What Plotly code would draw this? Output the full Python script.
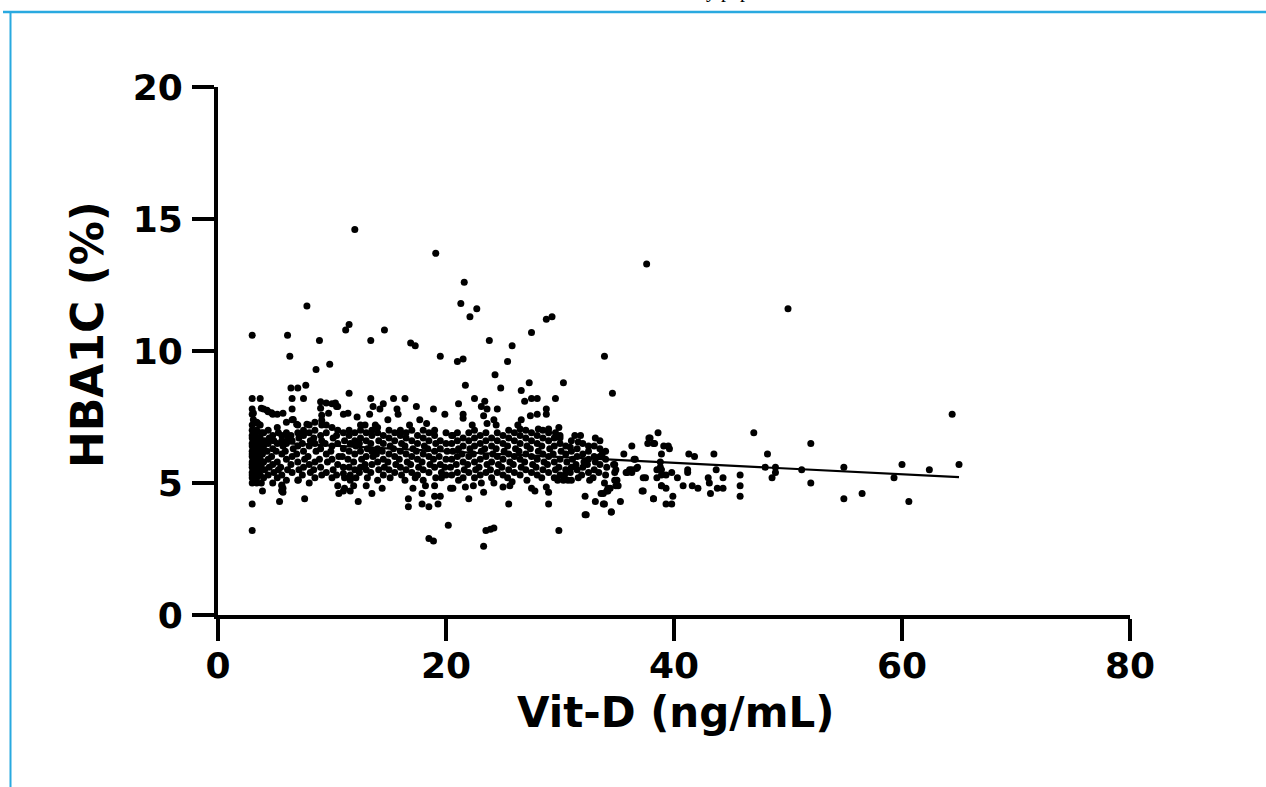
import plotly.graph_objects as go

# ---------------- data ----------------
x_ticks = [0, 20, 40, 60, 80]
y_ticks = [0, 5, 10, 15, 20]

# leftmost dense column (Vit-D about 3 ng/mL)
col_3 = [(3.0, 8.2), (3.0, 7.8), (3.0, 7.6), (3.1, 7.4), (3.0, 7.2), (3.0, 7.0), (3.1, 6.9),
         (3.0, 6.8), (3.0, 6.7), (3.1, 6.6), (3.0, 6.5), (3.0, 6.4), (3.1, 6.3), (3.0, 6.2),
         (3.0, 6.1), (3.0, 6.0), (3.1, 5.9), (3.0, 5.8), (3.0, 5.7), (3.0, 5.6), (3.1, 5.5),
         (3.0, 5.4), (3.0, 5.3), (3.0, 5.2), (3.0, 5.0), (3.0, 4.2), (3.0, 3.2), (3.0, 10.6),
         (3.4, 7.3), (3.4, 7.0), (3.3, 6.8), (3.4, 6.6), (3.4, 6.4), (3.3, 6.2), (3.4, 6.0),
         (3.4, 5.8), (3.3, 5.6), (3.4, 5.4), (3.4, 5.2), (3.4, 5.0),
         (3.7, 8.2), (3.7, 7.2), (3.8, 6.9), (3.7, 6.7), (3.7, 6.5), (3.8, 6.3), (3.7, 6.1),
         (3.7, 5.9), (3.8, 5.7), (3.7, 5.5), (3.7, 5.3), (3.8, 5.0)]

# dense cloud 4-11 ng/mL
cloud_4_11 = [(4.0, 7.8), (4.0, 6.9), (4.1, 6.6), (4.0, 6.4), (3.9, 6.1), (4.0, 5.8), (4.1, 5.5), (4.0, 5.2),
              (4.4, 7.7), (4.4, 7.0), (4.5, 6.7), (4.4, 6.5), (4.3, 6.2), (4.4, 5.9), (4.5, 5.6), (4.4, 5.3),
              (4.8, 7.6), (4.8, 6.8), (4.9, 6.6), (4.8, 6.3), (4.7, 6.0), (4.8, 5.7), (4.9, 5.4), (4.8, 5.0),
              (5.2, 7.6), (5.2, 7.1), (5.3, 6.9), (5.2, 6.5), (5.1, 6.2), (5.2, 5.8), (5.3, 5.5), (5.2, 5.2),
              (5.6, 6.8), (5.6, 6.6), (5.7, 6.4), (5.6, 6.1), (5.5, 5.6), (5.6, 5.3), (5.6, 4.9), (5.6, 4.7),
              (6.0, 7.3), (6.0, 6.9), (6.1, 6.7), (6.0, 6.5), (5.9, 6.2), (6.0, 5.9), (6.1, 5.5), (6.0, 5.1),
              (6.5, 7.8), (6.5, 7.4), (6.4, 6.8), (6.5, 6.6), (6.6, 6.3), (6.5, 6.0), (6.4, 5.7), (6.5, 5.4),
              (7.0, 7.2), (7.0, 6.9), (7.1, 6.7), (7.0, 6.4), (6.9, 6.1), (7.0, 5.8), (7.1, 5.5), (7.0, 5.1),
              (7.5, 7.0), (7.5, 6.8), (7.4, 6.5), (7.5, 6.2), (7.6, 5.9), (7.5, 5.6), (7.4, 5.3),
              (8.0, 7.2), (8.0, 6.9), (8.1, 6.6), (8.0, 6.4), (7.9, 6.0), (8.0, 5.7), (8.1, 5.4), (8.0, 5.0),
              (8.5, 7.3), (8.5, 7.0), (8.4, 6.7), (8.5, 6.5), (8.6, 6.2), (8.5, 5.8), (8.4, 5.5), (8.5, 5.2),
              (9.0, 6.8), (9.1, 6.6), (9.0, 6.3), (8.9, 5.9), (9.0, 5.6), (9.1, 5.3),
              (9.5, 7.2), (9.5, 6.9), (9.4, 6.5), (9.5, 6.1), (9.6, 5.8), (9.5, 5.4),
              (10.0, 8.0), (10.0, 7.1), (10.1, 6.7), (10.0, 6.4), (9.9, 6.2), (10.0, 5.9), (10.1, 5.5), (10.0, 5.2),
              (10.5, 7.9), (10.5, 7.0), (10.4, 6.8), (10.5, 6.5), (10.6, 6.0), (10.5, 5.7), (10.4, 5.3), (10.5, 4.9),
              (11.0, 7.6), (11.0, 6.9), (11.1, 6.6), (11.0, 6.3), (10.9, 6.0), (11.0, 5.6), (11.1, 5.2), (11.0, 4.7),
              (3.1, 7.64), (3.8, 7.83), (4.3, 7.76), (4.7, 7.66), (5.7, 7.64), (6.6, 7.41), (6.9, 7.23),
              (9.0, 7.83), (9.1, 7.57), (9.1, 7.38), (9.7, 7.64), (3.5, 7.25), (7.8, 7.23), (9.1, 7.2),
              (9.0, 8.08), (9.5, 8.03), (10.3, 8.03), (10.4, 7.9), (11.4, 7.64), (5.6, 4.92), (5.6, 4.73),
              (7.05, 5.11), (11.0, 5.36), (11.6, 5.17)]

# dense cloud 11-20 ng/mL
cloud_11_20 = [(11.5, 7.0), (11.5, 6.8), (11.6, 6.5), (11.5, 6.2), (11.4, 5.9), (11.5, 5.6), (11.6, 5.3),
               (12.0, 6.9), (12.0, 6.6), (12.1, 6.4), (12.0, 6.1), (11.9, 5.8), (12.0, 5.5), (12.1, 5.2),
               (12.5, 7.0), (12.5, 6.7), (12.4, 6.5), (12.5, 6.2), (12.6, 5.9), (12.5, 5.6), (12.4, 5.4),
               (13.0, 6.9), (13.0, 6.6), (13.1, 6.3), (13.0, 6.0), (12.9, 5.7), (13.0, 5.5), (13.1, 5.2),
               (13.5, 7.0), (13.5, 6.8), (13.4, 6.5), (13.5, 6.2), (13.6, 6.0), (13.5, 5.7), (13.4, 5.4),
               (14.0, 7.1), (14.0, 6.9), (14.1, 6.6), (14.0, 6.3), (13.9, 6.1), (14.0, 5.8), (14.1, 5.5), (14.0, 5.1),
               (14.5, 6.8), (14.5, 6.5), (14.4, 6.2), (14.5, 5.9), (14.6, 5.6), (14.5, 5.3),
               (15.0, 7.0), (15.0, 6.7), (15.1, 6.4), (15.0, 6.1), (14.9, 5.8), (15.0, 5.5), (15.1, 5.2),
               (15.5, 6.9), (15.5, 6.6), (15.4, 6.3), (15.5, 6.0), (15.6, 5.7), (15.5, 5.4),
               (16.0, 7.0), (16.0, 6.8), (16.1, 6.5), (16.0, 6.2), (15.9, 5.9), (16.0, 5.6), (16.1, 5.3),
               (16.5, 6.9), (16.5, 6.7), (16.4, 6.4), (16.5, 6.1), (16.6, 5.8), (16.5, 5.5), (16.4, 5.1),
               (17.0, 7.0), (17.0, 6.6), (17.1, 6.3), (17.0, 6.0), (16.9, 5.7), (17.0, 5.4),
               (17.5, 6.8), (17.5, 6.5), (17.4, 6.2), (17.5, 5.9), (17.6, 5.6), (17.5, 5.3),
               (18.0, 7.0), (18.0, 6.7), (18.1, 6.4), (18.0, 6.1), (17.9, 5.8), (18.0, 5.5),
               (18.5, 6.9), (18.5, 6.6), (18.4, 6.3), (18.5, 6.0), (18.6, 5.7), (18.5, 5.4),
               (19.0, 7.0), (19.0, 6.8), (19.1, 6.5), (19.0, 6.2), (18.9, 5.9), (19.0, 5.6), (19.1, 5.2),
               (19.5, 6.6), (19.5, 6.3), (19.4, 6.0), (19.5, 5.7), (19.6, 5.4),
               (20.0, 6.9), (20.0, 6.5), (20.1, 6.2), (20.0, 5.9), (19.9, 5.6), (20.0, 5.3),
               (14.5, 8.0), (13.6, 7.9), (14.2, 7.8), (15.7, 7.8), (17.4, 7.9), (18.9, 7.8), (19.9, 7.6),
               (12.2, 7.5), (13.3, 7.6), (14.9, 7.4), (15.8, 7.6), (17.7, 7.4), (18.3, 7.25), (12.5, 7.2),
               (12.9, 7.2), (13.8, 7.2), (16.8, 7.2),
               (11.6, 5.1), (11.9, 4.9), (11.6, 4.7), (13.0, 4.9), (17.3, 5.2), (18.0, 5.1), (18.2, 4.9),
               (17.9, 4.6), (17.9, 4.2), (18.5, 4.1), (19.0, 4.5), (19.5, 4.5), (19.3, 4.2), (20.4, 4.8),
               (19.0, 4.9), (19.6, 5.2)]

# dense cloud 20-30 ng/mL
cloud_20_30 = [(20.5, 6.8), (20.5, 6.5), (20.6, 6.2), (20.5, 5.9), (20.4, 5.6), (20.5, 5.3),
               (21.0, 6.9), (21.0, 6.6), (21.1, 6.3), (21.0, 6.0), (20.9, 5.7), (21.0, 5.4), (21.1, 5.1),
               (21.5, 6.7), (21.5, 6.4), (21.4, 6.1), (21.5, 5.8), (21.6, 5.5), (21.5, 5.2),
               (22.0, 6.9), (22.0, 6.6), (22.1, 6.3), (22.0, 6.0), (21.9, 5.7), (22.0, 5.4),
               (22.5, 6.7), (22.5, 6.4), (22.4, 6.1), (22.5, 5.8), (22.6, 5.5), (22.5, 5.2),
               (23.0, 6.8), (23.0, 6.5), (23.1, 6.2), (23.0, 5.9), (22.9, 5.6), (23.0, 5.3), (23.1, 5.0),
               (23.5, 6.9), (23.5, 6.6), (23.4, 6.3), (23.5, 6.0), (23.6, 5.7), (23.5, 5.4),
               (24.0, 6.7), (24.0, 6.4), (24.1, 6.1), (24.0, 5.8), (23.9, 5.5), (24.0, 5.2),
               (24.5, 6.9), (24.5, 6.6), (24.4, 6.3), (24.5, 6.0), (24.6, 5.7), (24.5, 5.4),
               (25.0, 6.8), (25.0, 6.5), (25.1, 6.2), (25.0, 5.9), (24.9, 5.6), (25.0, 5.3),
               (25.5, 7.0), (25.5, 6.7), (25.4, 6.4), (25.5, 6.1), (25.6, 5.8), (25.5, 5.5), (25.4, 5.2),
               (26.0, 6.9), (26.0, 6.6), (26.1, 6.3), (26.0, 6.0), (25.9, 5.7), (26.0, 5.4),
               (26.5, 6.8), (26.5, 6.5), (26.4, 6.2), (26.5, 5.9), (26.6, 5.6), (26.5, 5.3),
               (27.0, 7.0), (27.0, 6.7), (27.1, 6.4), (27.0, 6.1), (26.9, 5.8), (27.0, 5.5), (27.1, 5.1),
               (27.5, 6.9), (27.5, 6.6), (27.4, 6.3), (27.5, 6.0), (27.6, 5.7), (27.5, 5.4),
               (28.0, 6.8), (28.0, 6.5), (28.1, 6.2), (28.0, 5.9), (27.9, 5.6), (28.0, 5.3),
               (28.5, 7.0), (28.5, 6.7), (28.4, 6.4), (28.5, 6.1), (28.6, 5.8), (28.5, 5.5), (28.4, 5.2),
               (29.0, 6.9), (29.0, 6.6), (29.1, 6.3), (29.0, 6.0), (28.9, 5.7), (29.0, 5.4),
               (29.5, 6.7), (29.5, 6.4), (29.4, 6.1), (29.5, 5.8), (29.6, 5.5), (29.5, 5.2),
               (30.0, 6.8), (30.0, 6.5), (30.1, 6.2), (30.0, 5.9), (29.9, 5.6), (30.0, 5.3),
               (29.6, 8.2), (21.1, 8.0), (22.5, 8.2), (23.4, 8.1), (23.1, 7.9), (23.6, 7.8), (24.5, 7.8),
               (26.9, 8.1), (27.5, 8.2), (28.0, 8.2), (28.8, 7.8), (28.8, 7.6), (21.5, 7.6), (21.5, 7.45),
               (22.3, 7.2), (22.5, 7.0), (23.3, 7.55), (23.6, 7.25), (24.2, 7.4), (24.4, 7.2), (27.4, 7.55),
               (28.0, 7.6), (26.6, 7.4), (26.3, 7.2), (26.5, 7.05), (28.1, 7.05), (29.0, 7.05), (29.6, 6.9),
               (20.6, 6.8),
               (20.6, 4.8), (21.7, 4.85), (22.4, 4.9), (23.3, 4.65), (22.0, 4.4), (24.2, 5.0), (25.0, 4.85),
               (25.6, 4.9), (25.8, 5.05), (27.5, 4.8), (27.8, 4.7), (28.8, 4.85), (29.0, 4.65), (25.5, 4.2),
               (29.0, 4.2)]

# dense cloud 30-35 ng/mL
cloud_30_35 = [(30.5, 6.4), (30.5, 6.1), (30.6, 5.8), (30.5, 5.5), (30.4, 5.3),
               (31.0, 6.6), (31.0, 6.2), (31.1, 5.9), (31.0, 5.6), (30.9, 5.4), (31.0, 5.1),
               (31.5, 6.3), (31.5, 6.0), (31.4, 5.7), (31.5, 5.5), (31.6, 5.2),
               (32.0, 6.5), (32.0, 6.1), (32.1, 5.8), (32.0, 5.6), (31.9, 5.3),
               (32.5, 6.2), (32.5, 5.9), (32.4, 5.7), (32.5, 5.4), (32.6, 5.1),
               (33.0, 6.4), (33.0, 6.0), (33.1, 5.8), (33.0, 5.5), (32.9, 5.2),
               (33.5, 6.0), (33.5, 5.7), (33.4, 5.4),
               (34.0, 6.2), (34.0, 5.9), (34.1, 5.6), (34.0, 5.3), (33.9, 5.0),
               (29.9, 7.1), (30.0, 6.7), (31.3, 6.8), (31.8, 6.8), (31.6, 6.55), (32.5, 6.4), (33.1, 6.7),
               (33.5, 6.6), (33.5, 6.3), (33.7, 6.1), (30.9, 6.35), (29.8, 5.1), (30.3, 5.1), (30.7, 5.1),
               (32.2, 4.5), (33.1, 4.3), (33.8, 4.2), (32.2, 3.8), (34.4, 4.8), (34.2, 4.7), (33.6, 4.6),
               (34.8, 5.7), (34.9, 5.5), (34.8, 5.1), (35.1, 4.9), (34.7, 5.7), (34.8, 5.4), (35.0, 5.1),
               (34.9, 4.9), (34.2, 4.8), (34.1, 4.7), (33.8, 4.6), (33.9, 4.2)]

# sparse points above 35 ng/mL
sparse_right = [(37.6, 13.3), (50.0, 11.6), (64.4, 7.6), (65.0, 5.7), (47.0, 6.9), (52.0, 6.5),
                (48.2, 6.1), (48.0, 5.6), (48.9, 5.6), (48.9, 5.4), (48.6, 5.2), (51.2, 5.5),
                (52.0, 5.0), (54.9, 5.6), (54.9, 4.4), (56.5, 4.6), (59.3, 5.2), (60.0, 5.7),
                (60.6, 4.3), (62.4, 5.5), (45.8, 5.3), (45.8, 4.9), (45.8, 4.5), (43.5, 6.1),
                (43.7, 5.5), (43.0, 5.2), (43.1, 5.0), (43.2, 4.6), (43.8, 4.8), (44.3, 4.8),
                (44.3, 5.2), (41.3, 6.1), (41.8, 6.0), (41.2, 5.5), (41.2, 5.4), (40.8, 4.9),
                (41.6, 4.9), (42.1, 4.8), (40.3, 5.2), (38.6, 6.9), (37.8, 6.7), (37.7, 6.5),
                (38.2, 6.5), (39.5, 6.4), (39.6, 6.3), (38.9, 6.1), (38.8, 5.8), (38.8, 5.6),
                (38.5, 5.5), (38.9, 5.5), (38.5, 5.2), (38.9, 5.3), (39.3, 5.3), (39.8, 5.4),
                (38.9, 4.9), (39.3, 4.8), (39.9, 4.5), (39.3, 4.2), (39.8, 4.2), (38.2, 4.4),
                (37.3, 5.2), (37.5, 5.2), (37.3, 4.7), (36.3, 6.4), (35.6, 6.1), (36.5, 5.9),
                (36.8, 5.6), (36.1, 5.5), (36.3, 5.4), (35.8, 5.4), (35.3, 4.3), (34.5, 3.9),
                (36.6, 5.9), (36.7, 5.55), (36.3, 5.5), (35.9, 5.4), (37.2, 4.7), (38.2, 4.4),
                (38.9, 4.9), (37.9, 6.7), (38.3, 6.5), (39.1, 6.4)]

# outliers, high and low
outliers = [(12.0, 14.6), (19.1, 13.7), (7.8, 11.7), (11.2, 10.8), (11.5, 11.0), (6.1, 10.6),
            (8.9, 10.4), (13.4, 10.4), (14.6, 10.8), (16.9, 10.3), (17.3, 10.2), (6.3, 9.8),
            (8.6, 9.3), (9.8, 9.5), (19.5, 9.8), (21.0, 9.6), (21.5, 9.7), (21.6, 12.6),
            (21.3, 11.8), (22.7, 11.6), (22.1, 11.3), (28.8, 11.2), (29.3, 11.3), (27.5, 10.7),
            (23.8, 10.4), (25.8, 10.2), (25.4, 9.6), (33.9, 9.8), (24.3, 9.1), (24.8, 8.6),
            (21.7, 8.7), (30.3, 8.8), (34.6, 8.4), (26.6, 8.5), (27.3, 8.8), (6.4, 8.6),
            (7.0, 8.6), (7.7, 8.7), (11.5, 8.4), (6.5, 8.2), (7.5, 8.2), (13.4, 8.2),
            (15.4, 8.2), (16.4, 8.2),
            (20.2, 3.4), (18.5, 2.9), (18.9, 2.8), (23.3, 2.6), (23.5, 3.2), (23.9, 3.25),
            (24.2, 3.3), (29.9, 3.2), (32.3, 3.8), (34.5, 3.9), (3.9, 4.7), (5.4, 4.3),
            (7.6, 4.4), (10.6, 4.6), (11.1, 4.8), (12.3, 4.3), (13.5, 4.6), (14.4, 4.8),
            (16.7, 4.4), (16.7, 4.1), (17.1, 4.8), (5.7, 4.8), (5.7, 4.65)]

# regression line end points
fit_x = [3.0, 65.0]
fit_y = [6.57, 5.22]

# ---------------- build figure ----------------
all_points = col_3 + cloud_4_11 + cloud_11_20 + cloud_20_30 + cloud_30_35 + sparse_right + outliers
vitd = [p[0] for p in all_points]
hba1c = [p[1] for p in all_points]

W, H = 1266, 787
L, T = 218, 87
PW, PH = 912, 528
R, B = W - L - PW, H - T - PH


def px_x(px):
    return (px - L) / PW


def px_y(py):
    return (T + PH - py) / PH


FONT = "DejaVu Sans, Verdana, sans-serif"

fig = go.Figure()
fig.add_trace(go.Scatter(x=vitd, y=hba1c, mode="markers",
                         marker=dict(size=7, color="black", line=dict(width=0)),
                         cliponaxis=False, showlegend=False, hoverinfo="skip"))
fig.add_trace(go.Scatter(x=fit_x, y=fit_y, mode="lines",
                         line=dict(color="black", width=2.2),
                         showlegend=False, hoverinfo="skip"))

axis_common = dict(showline=True, linecolor="black", linewidth=4, ticks="outside",
                   ticklen=22, tickwidth=4, tickcolor="black", showgrid=False, zeroline=False,
                   tickfont=dict(family=FONT, size=36, color="black", weight="bold"))

fig.update_xaxes(range=[0, 80], tickmode="array", tickvals=x_ticks,
                 ticktext=[str(v) for v in x_ticks], ticklabelstandoff=-6, **axis_common)
fig.update_yaxes(range=[0, 20], tickmode="array", tickvals=y_ticks,
                 ticktext=[str(v) for v in y_ticks], ticklabelstandoff=2, **axis_common)

annotations = [
    dict(text="HBA1C (%)", x=px_x(87), y=px_y(335), xref="paper", yref="paper",
         showarrow=False, textangle=-90, xanchor="center", yanchor="middle",
         font=dict(family=FONT, size=44, color="black", weight="bold")),
    dict(text="Vit-D (ng/mL)", x=px_x(675), y=px_y(712), xref="paper", yref="paper",
         showarrow=False, xanchor="center", yanchor="middle",
         font=dict(family=FONT, size=42, color="black", weight="bold")),
    dict(text="y pap", x=px_x(728), y=px_y(4), xref="paper", yref="paper",
         showarrow=False, xanchor="center", yanchor="bottom",
         font=dict(family="Liberation Serif, serif", size=20, color="black")),
]

shapes = [
    dict(type="line", xref="paper", yref="paper", x0=px_x(3), x1=px_x(1280), y0=px_y(12), y1=px_y(12),
         line=dict(color="#29A9E0", width=2.5)),
    dict(type="line", xref="paper", yref="paper", x0=px_x(10.5), x1=px_x(10.5), y0=px_y(12), y1=px_y(800),
         line=dict(color="#29A9E0", width=2)),
]

fig.update_layout(width=W, height=H, margin=dict(l=L, r=R, t=T, b=B, pad=0),
                  paper_bgcolor="white", plot_bgcolor="white",
                  annotations=annotations, shapes=shapes)

fig.write_html("out.html", config={"displayModeBar": False},
               post_script="document.body.style.margin='0px';document.body.style.overflow='hidden';")
